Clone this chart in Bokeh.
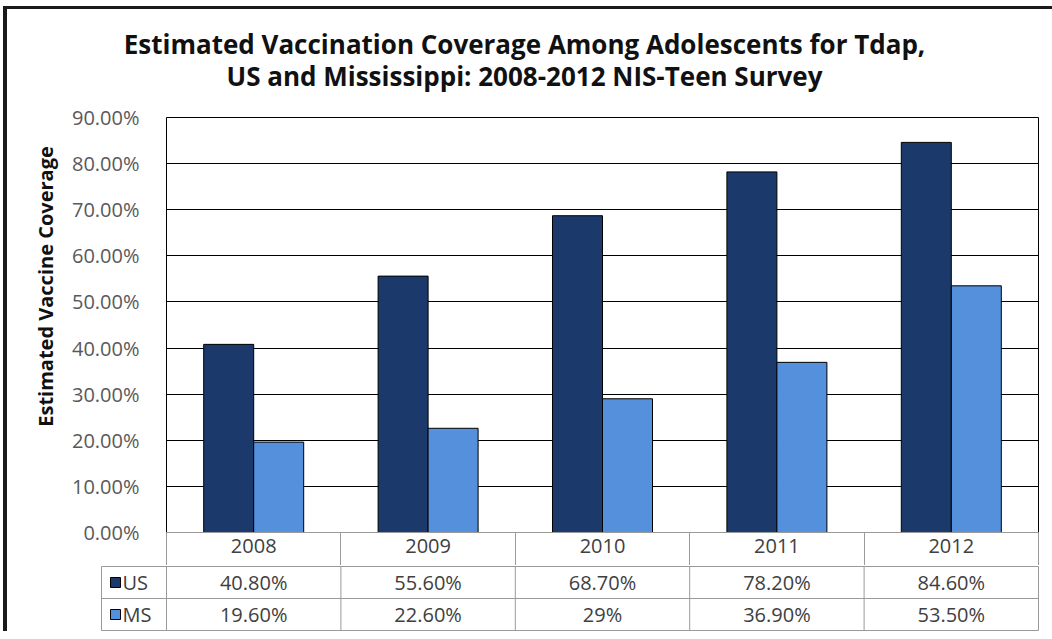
import math
from bokeh.plotting import figure
from bokeh.models import Range1d, FixedTicker, PrintfTickFormatter, ColumnDataSource
from bokeh.layouts import column, row
from bokeh.embed import file_html
from bokeh.resources import INLINE
from bokeh.core.properties import value

# ---------------- data ----------------
years = ["2008", "2009", "2010", "2011", "2012"]
us_values = [40.8, 55.6, 68.7, 78.2, 84.6]
ms_values = [19.6, 22.6, 29.0, 36.9, 53.5]
us_labels = ["40.80%", "55.60%", "68.70%", "78.20%", "84.60%"]
ms_labels = ["19.60%", "22.60%", "29%", "36.90%", "53.50%"]
series_names = ["US", "MS"]
series_colors = ["#1B3A6B", "#5590DC"]
y_ticks = [0, 10, 20, 30, 40, 50, 60, 70, 80, 90]
title_lines = ["Estimated Vaccination Coverage Among Adolescents for Tdap,",
               "US and Mississippi: 2008-2012 NIS-Teen Survey"]
y_title = "Estimated Vaccine Coverage"

FONT = value("Open Sans")
CW = 174.4            # px per category
BAR_W = 50 / CW       # bar width in category units
TEXT_COLOR = "#404040"
TABLE_LINE = "#9a9a9a"
FS = "20px"

n = len(years)
centers = [i + 0.5 for i in range(n)]

def bare(fig):
    fig.outline_line_color = None
    fig.grid.visible = False
    return fig

# ---------------- title ----------------
tf = bare(figure(width=1045, height=91, x_range=Range1d(0, 1045), y_range=Range1d(91, 0),
                 output_backend="svg", toolbar_location=None, x_axis_type=None, y_axis_type=None,
                 min_border=0, min_border_left=0, min_border_right=0, min_border_top=0,
                 min_border_bottom=0))
tf.text(x=[517, 517], y=[34, 66], text=title_lines, text_font=FONT, text_font_style="bold",
        text_font_size="26px", text_align="center", text_baseline="middle", text_color="#111111")

# ---------------- y axis title strip ----------------
lf = bare(figure(width=56, height=531, x_range=Range1d(0, 56), y_range=Range1d(531, 0),
                 output_backend="svg", toolbar_location=None, x_axis_type=None, y_axis_type=None,
                 min_border=0, min_border_left=0, min_border_right=0, min_border_top=0,
                 min_border_bottom=0))
lf.text(x=[38], y=[186], text=[y_title], angle=math.pi / 2, text_font=FONT, text_font_style="bold",
        text_font_size="20px", text_align="center", text_baseline="middle", text_color="#111111")

# ---------------- main chart ----------------
src = ColumnDataSource(dict(
    x_us=[c - BAR_W / 2 for c in centers],
    x_ms=[c + BAR_W / 2 for c in centers],
    us=us_values, ms=ms_values))

p = figure(width=982, height=465, x_range=Range1d(0, n), y_range=Range1d(0, 90),
           output_backend="svg", toolbar_location=None,
           min_border_left=103, min_border_right=7, min_border_top=17, min_border_bottom=33)
p.vbar(x="x_us", top="us", width=BAR_W, source=src, fill_color=series_colors[0],
       line_color="black", line_width=1)
p.vbar(x="x_ms", top="ms", width=BAR_W, source=src, fill_color=series_colors[1],
       line_color="black", line_width=1)

p.outline_line_color = "black"
p.outline_line_width = 1
p.xgrid.visible = False
p.ygrid.ticker = FixedTicker(ticks=y_ticks)
p.ygrid.grid_line_color = "black"
p.ygrid.grid_line_width = 1

ya = p.yaxis[0]
ya.ticker = FixedTicker(ticks=y_ticks)
ya.formatter = PrintfTickFormatter(format="%.2f%%")
ya.axis_line_color = None
ya.major_tick_line_color = None
ya.minor_tick_line_color = None
ya.major_label_standoff = 21
ya.major_label_text_font = "Open Sans"
ya.major_label_text_font_size = FS
ya.major_label_text_color = "#595959"

xa = p.xaxis[0]
xa.ticker = FixedTicker(ticks=centers, minor_ticks=list(range(n + 1)))
xa.major_label_overrides = {c: y for c, y in zip(centers, years)}
xa.axis_line_color = TABLE_LINE
xa.major_tick_line_color = None
xa.minor_tick_line_color = TABLE_LINE
xa.minor_tick_in = 0
xa.minor_tick_out = 33
xa.major_label_standoff = -27
xa.major_label_text_font = "Open Sans"
xa.major_label_text_font_size = FS
xa.major_label_text_color = TEXT_COLOR

# ---------------- data table ----------------
RPX = 32.0                       # px per table row
LX = -(166 - 101) / CW           # left edge of label column
t = bare(figure(width=982, height=66,
                x_range=Range1d(-(166 - 100) / CW, n + 2 / CW),
                y_range=Range1d(-1 / RPX, 2 + 1 / RPX),
                output_backend="svg", toolbar_location=None, x_axis_type=None, y_axis_type=None,
                min_border=0, min_border_left=37, min_border_right=5, min_border_top=0,
                min_border_bottom=0))

# horizontal rules
t.segment(x0=[LX] * 3, y0=[0, 1, 2], x1=[n] * 3, y1=[0, 1, 2], line_color=TABLE_LINE, line_width=1)
# vertical rules
vx = [LX] + list(range(n + 1))
t.segment(x0=vx, y0=[0] * len(vx), x1=vx, y1=[2] * len(vx), line_color=TABLE_LINE, line_width=1)

# values
t.text(x=centers, y=[1.5] * n, text=us_labels, text_font=FONT, text_font_size=FS,
       text_align="center", text_baseline="middle", text_color=TEXT_COLOR)
t.text(x=centers, y=[0.5] * n, text=ms_labels, text_font=FONT, text_font_size=FS,
       text_align="center", text_baseline="middle", text_color=TEXT_COLOR)

# legend keys
t.scatter(x=[LX + 14 / CW] * 2, y=[1.5, 0.5], marker="square", size=10,
          fill_color=series_colors, line_color="black", line_width=1)
t.text(x=[LX + 21 / CW] * 2, y=[1.5, 0.5], text=series_names, text_font=FONT,
       text_font_size=FS, text_align="left", text_baseline="middle", text_color=TEXT_COLOR)

layout = column(tf, row(lf, column(p, row(t))),
                styles={"border-left": "4px solid #1a1a1a", "border-top": "3px solid #1a1a1a",
                        "margin-left": "3px", "margin-top": "6px"})

open("out.html", "w").write(file_html(layout, INLINE))
